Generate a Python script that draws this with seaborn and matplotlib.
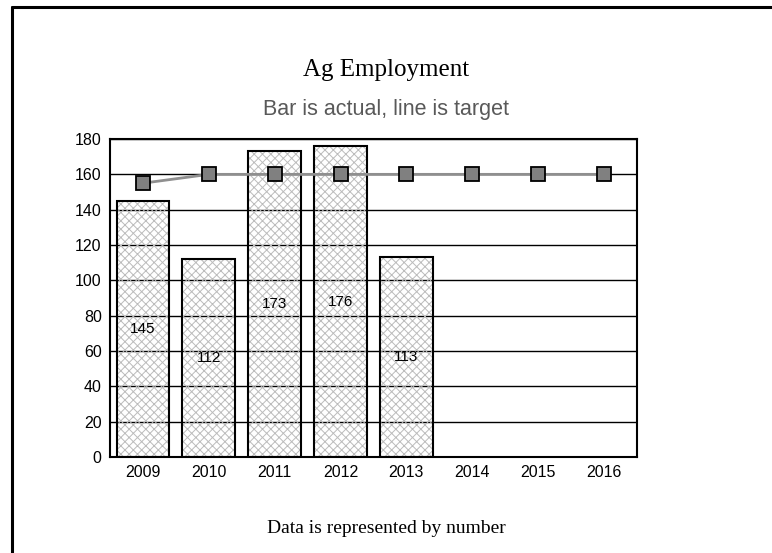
import matplotlib
matplotlib.use("Agg")
import matplotlib.pyplot as plt
from matplotlib.lines import Line2D
import seaborn as sns
import pandas as pd

# ── Data ─────────────────────────────────────────────────────
years        = ["2009", "2010", "2011", "2012", "2013", "2014", "2015", "2016"]
actual_years = ["2009", "2010", "2011", "2012", "2013"]
actual       = [145, 112, 173, 176, 113]
target       = [155, 160, 160, 160, 160, 160, 160, 160]

sns.set_style("white")
plt.rcParams["font.family"] = ["Liberation Sans", "DejaVu Sans"]
plt.rcParams["hatch.linewidth"] = 0.7

bars_df = pd.DataFrame({"year": actual_years, "value": actual})
line_df = pd.DataFrame({"year": years, "value": target})

fig = plt.figure(figsize=(7.72, 5.53), dpi=100)
ax = fig.add_axes([0.1425, 0.1736, 0.6825, 0.575])

# hatch layer (light grey) then black outline
sns.barplot(data=bars_df, x="year", y="value", order=years, ax=ax,
            width=0.8, zorder=2)
for p in ax.containers[0]:
    p.set_facecolor("none")
    p.set_edgecolor("#bcbcbc")
    p.set_hatch("xxxx")
    p.set_linewidth(0)

sns.barplot(data=bars_df, x="year", y="value", order=years, ax=ax,
            fill=False, edgecolor="black", linewidth=1.5,
            width=0.8, zorder=3)

ax.bar_label(ax.containers[1], labels=[str(v) for v in actual],
             label_type="center", fontsize=11, color="black", zorder=5)

sns.pointplot(data=line_df, x="year", y="value", order=years, ax=ax,
              color="#8f8f8f", markers="s", linewidth=2, markersize=9.5,
              errorbar=None, zorder=4)
for ln in ax.lines:
    if ln.get_marker() == "s":
        ln.set_markerfacecolor("#808080")
        ln.set_markeredgecolor("black")
        ln.set_markeredgewidth(1.3)

ax.set_ylim(0, 180)
ax.set_yticks(range(0, 181, 20))
ax.set_xlim(-0.5, 7.5)
ax.yaxis.grid(True, color="black", lw=1.0, zorder=0)
ax.set_axisbelow(True)
ax.tick_params(axis="both", length=0, labelsize=11.5, colors="black", pad=6)
for s in ax.spines.values():
    s.set_visible(True)
    s.set_color("black")
    s.set_linewidth(1.5)
ax.set_xlabel("")
ax.set_ylabel("")

fig.text(0.5, 0.873, "Ag Employment", ha="center", va="center",
         fontsize=18, family="Liberation Serif", color="black")
fig.text(0.5, 0.802, "Bar is actual, line is target", ha="center", va="center",
         fontsize=15.5, color="#595959")
fig.text(0.5, 0.045, "Data is represented by number", ha="center", va="center",
         fontsize=14, family="Liberation Serif", color="black")

# slide frame
fig.add_artist(Line2D([0.0155, 0.0155], [0.0, 0.9865], color="black", lw=2.2,
                      transform=fig.transFigure))
fig.add_artist(Line2D([0.0155, 1.0], [0.9865, 0.9865], color="black", lw=2.2,
                      transform=fig.transFigure))

fig.savefig("out.png", dpi=100)
